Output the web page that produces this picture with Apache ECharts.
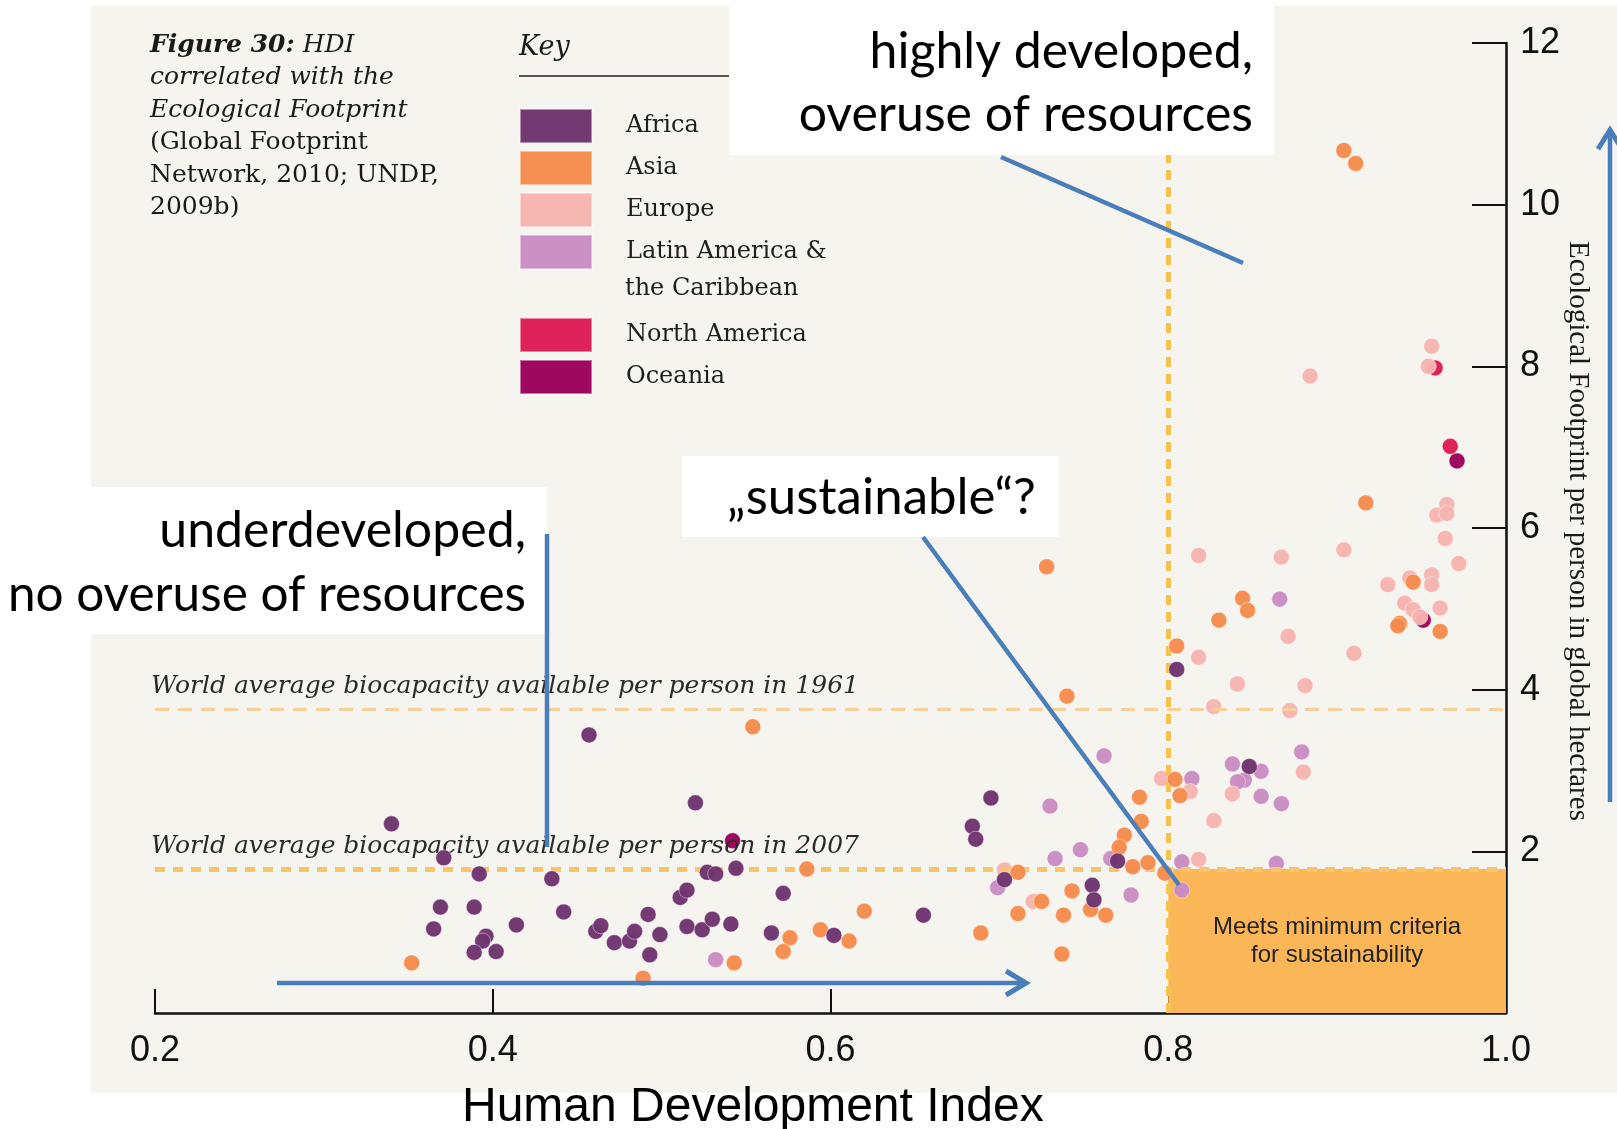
<!DOCTYPE html>
<html><head><meta charset="utf-8">
<script src="https://cdn.jsdelivr.net/npm/echarts@6/dist/echarts.min.js"></script>
<style>html,body{margin:0;padding:0;background:#fff}#c{width:1617px;height:1129px}</style>
</head><body><div id="c"></div>
<script>
// ---- data: [HDI, Ecological Footprint (gha per person)] ----
const africa = [[0.340,2.34],[0.371,1.92],[0.392,1.72],[0.435,1.66],[0.369,1.31],[0.389,1.31],[0.442,1.25],[0.365,1.04],[0.414,1.09],[0.396,0.95],[0.394,0.89],[0.389,0.75],[0.402,0.76],[0.461,1.01],[0.464,1.08],[0.472,0.87],[0.481,0.89],[0.484,1.01],[0.492,1.22],[0.493,0.72],[0.499,0.97],[0.515,1.07],[0.524,1.03],[0.530,1.16],[0.541,1.10],[0.511,1.43],[0.515,1.52],[0.520,2.60],[0.527,1.74],[0.532,1.72],[0.544,1.79],[0.572,1.48],[0.565,0.99],[0.602,0.96],[0.457,3.44],[0.695,2.66],[0.684,2.31],[0.686,2.15],[0.655,1.21],[0.703,1.65],[0.770,1.88],[0.755,1.58],[0.756,1.40],[0.805,4.25],[0.848,3.05]];
const asia = [[0.352,0.62],[0.489,0.43],[0.543,0.62],[0.554,3.54],[0.586,1.78],[0.576,0.93],[0.572,0.76],[0.594,1.03],[0.611,0.89],[0.620,1.26],[0.689,0.99],[0.711,1.74],[0.711,1.23],[0.728,5.52],[0.740,3.92],[0.725,1.38],[0.743,1.51],[0.738,1.21],[0.754,1.28],[0.763,1.21],[0.737,0.73],[0.783,2.67],[0.784,2.37],[0.774,2.20],[0.771,2.05],[0.779,1.81],[0.788,1.86],[0.798,1.73],[0.804,2.89],[0.807,2.69],[0.805,4.54],[0.830,4.86],[0.844,5.13],[0.847,4.98],[0.904,10.67],[0.911,10.51],[0.917,6.31],[0.945,5.33],[0.937,4.82],[0.936,4.79],[0.961,4.72]];
const europe = [[0.720,1.38],[0.703,1.77],[0.796,2.90],[0.813,2.74],[0.818,1.90],[0.827,2.38],[0.838,2.71],[0.880,2.98],[0.818,5.66],[0.818,4.40],[0.827,3.79],[0.841,4.07],[0.867,5.64],[0.871,4.66],[0.881,4.05],[0.872,3.74],[0.904,5.73],[0.910,4.45],[0.930,5.30],[0.943,5.38],[0.956,5.42],[0.956,5.30],[0.972,5.56],[0.964,5.87],[0.965,6.29],[0.959,6.16],[0.965,6.18],[0.940,5.07],[0.945,4.99],[0.961,5.01],[0.949,4.90],[0.884,7.88],[0.956,8.25],[0.954,8.00]];
const latinAmerica = [[0.532,0.66],[0.699,1.55],[0.762,3.18],[0.730,2.56],[0.748,2.02],[0.733,1.91],[0.766,1.91],[0.778,1.46],[0.808,1.87],[0.808,1.52],[0.814,2.90],[0.864,1.85],[0.838,3.08],[0.855,2.99],[0.845,2.88],[0.841,2.86],[0.855,2.68],[0.867,2.59],[0.879,3.23],[0.866,5.12]];
const northAmerica = [[0.958,7.98],[0.967,7.01]];
const oceania = [[0.542,2.13],[0.971,6.83],[0.951,4.86]];

const regionNames = ['Africa','Asia','Europe','Latin America & the Caribbean','North America','Oceania'];
const regionColors = ['#6f3470','#f58b4c','#f6b4ae','#c98cc2','#dc1c52','#9b005a'];

const xTicks = [0.2,0.4,0.6,0.8,1.0];
const yTicks = [0,2,4,6,8,10,12];
const biocapacity1961 = 3.76;
const biocapacity2007 = 1.78;
const hdiThreshold = 0.8;

const serif = 'DejaVu Serif';
const sans = 'Liberation Sans';
const anno = 'Lato';
const blue = '#4a7ebb';

function scatter(idx, data, z) {
  return { name: regionNames[idx], type: 'scatter', data: data, symbolSize: 16, z: z, silent: true,
    itemStyle: { color: regionColors[idx], opacity: 0.97, borderColor: 'rgba(255,255,255,0.45)', borderWidth: 1 } };
}

const legendTops = [108,150,192,234,317,359];
const legends = regionNames.map((n, i) => ({
  data: [n], orient: 'vertical', left: 519, top: legendTops[i], padding: 0,
  icon: 'rect', itemWidth: 72, itemHeight: 34, selectedMode: false,
  formatter: n === regionNames[3] ? 'Latin America &' : '{name}',
  textStyle: { fontFamily: serif, fontSize: 24, color: '#1f1f1f', padding: [0,0,0,29] }
}));

const chart = echarts.init(document.getElementById('c'));
chart.setOption({
  animation: false,
  backgroundColor: '#ffffff',
  grid: { left: 155, right: 111, top: 43, bottom: 116, containLabel: false },
  legend: legends,
  xAxis: { type: 'value', min: xTicks[0], max: xTicks[xTicks.length-1], interval: 0.2,
    axisLine: { show: true, onZero: false, lineStyle: { color: '#111', width: 2.5 } },
    axisTick: { show: true, inside: true, length: 24, lineStyle: { color: '#111', width: 2 } },
    axisLabel: { formatter: v => v.toFixed(1), fontFamily: sans, fontSize: 36, color: '#111', margin: 20 },
    splitLine: { show: false } },
  yAxis: { type: 'value', position: 'right', min: yTicks[0], max: yTicks[yTicks.length-1], interval: 2,
    axisLine: { show: true, onZero: false, lineStyle: { color: '#111', width: 2.5 } },
    axisTick: { show: true, inside: true, length: 34, lineStyle: { color: '#111', width: 2 } },
    axisLabel: { formatter: v => v === 0 ? '' : String(v), fontFamily: sans, fontSize: 36, color: '#111', margin: 14 },
    splitLine: { show: false } },
  series: [
    { name: 'ref', type: 'line', data: [], z: 1, silent: true,
      markArea: { silent: true, itemStyle: { color: '#fbb658' },
        label: { show: true, position: 'inside', formatter: 'Meets minimum criteria\nfor sustainability',
          fontFamily: sans, fontSize: 24, color: '#222', lineHeight: 28 },
        data: [[{ coord: [hdiThreshold, 0] }, { coord: [1.0, biocapacity2007] }]] },
      markLine: { silent: true, symbol: ['none','none'],
        data: [
          [{ coord: [0.2, biocapacity1961], lineStyle: { color: '#f5d09a', width: 3, type: [14,9] },
             label: { show: true, position: 'insideStartTop', distance: [-4, 10], formatter: 'World average biocapacity available per person in 1961',
               fontFamily: serif, fontStyle: 'italic', fontSize: 25, color: '#2a2a2a' } },
           { coord: [1.0, biocapacity1961] }],
          [{ coord: [0.2, biocapacity2007], lineStyle: { color: '#f8c46e', width: 5, type: [10,8] },
             label: { show: true, position: 'insideStartTop', distance: [-4, 10], formatter: 'World average biocapacity available per person in 2007',
               fontFamily: serif, fontStyle: 'italic', fontSize: 25, color: '#2a2a2a' } },
           { coord: [1.0, biocapacity2007] }],
          [{ coord: [hdiThreshold, 0], lineStyle: { color: '#f5c250', width: 5, type: [10,7] }, label: { show: false } },
           { coord: [hdiThreshold, 12] }]
        ] } },
    scatter(4, northAmerica, 2),
    scatter(5, oceania, 2),
    scatter(3, latinAmerica, 3),
    scatter(2, europe, 4),
    scatter(1, asia, 5),
    scatter(0, africa, 6)
  ],
  graphic: [
    { type: 'rect', shape: { x: 91, y: 6, width: 1526, height: 1087 }, style: { fill: '#f6f4ef' }, z: -10, silent: true },
    { type: 'text', x: 150, y: 29, z: 5, style: {
        text: '{bi|Figure 30:}{i| HDI}\n{i|correlated with the}\n{i|Ecological Footprint}\n{r|(Global Footprint}\n{r|Network, 2010; UNDP,}\n{r|2009b)}',
        rich: {
          bi: { fontFamily: serif, fontSize: 25, fontStyle: 'italic', fontWeight: 'bold', lineHeight: 32.5, fill: '#1a1a1a' },
          i: { fontFamily: serif, fontSize: 25, fontStyle: 'italic', lineHeight: 32.5, fill: '#1a1a1a' },
          r: { fontFamily: serif, fontSize: 25, lineHeight: 32.5, fill: '#1a1a1a' } } } },
    { type: 'text', x: 519, y: 48, z: 5, style: { text: 'Key', fontFamily: serif, fontStyle: 'italic', fontSize: 27, fill: '#1a1a1a', verticalAlign: 'middle' } },
    { type: 'line', shape: { x1: 519, y1: 76, x2: 729, y2: 76 }, style: { stroke: '#222', lineWidth: 1.5 }, z: 5 },
    { type: 'text', x: 625, y: 289, z: 5, style: { text: 'the Caribbean', fontFamily: serif, fontSize: 24, fill: '#1f1f1f', verticalAlign: 'middle' } },
    // annotation boxes
    { type: 'rect', shape: { x: 729, y: 6, width: 545, height: 149 }, style: { fill: '#ffffff' }, z: 100 },
    { type: 'rect', shape: { x: 0, y: 487, width: 547, height: 147 }, style: { fill: '#ffffff' }, z: 100 },
    { type: 'rect', shape: { x: 682, y: 456, width: 377, height: 81 }, style: { fill: '#ffffff' }, z: 100 },
    { type: 'text', x: 1253, y: 52, z: 101, style: { text: 'highly developed,', fontFamily: anno, fontSize: 50, fill: '#000', textAlign: 'right', verticalAlign: 'middle' } },
    { type: 'text', x: 1253, y: 115, z: 101, style: { text: 'overuse of resources', fontFamily: anno, fontSize: 50, fill: '#000', textAlign: 'right', verticalAlign: 'middle' } },
    { type: 'text', x: 526, y: 531, z: 101, style: { text: 'underdeveloped,', fontFamily: anno, fontSize: 50, fill: '#000', textAlign: 'right', verticalAlign: 'middle' } },
    { type: 'text', x: 526, y: 595, z: 101, style: { text: 'no overuse of resources', fontFamily: anno, fontSize: 49.5, fill: '#000', textAlign: 'right', verticalAlign: 'middle' } },
    { type: 'text', x: 727, y: 498, z: 101, style: { text: '\u201Esustainable\u201C?', fontFamily: anno, fontSize: 51, fill: '#000', textAlign: 'left', verticalAlign: 'middle' } },
    // axis titles
    { type: 'text', x: 462, y: 1108, z: 101, style: { text: 'Human Development Index', fontFamily: sans, fontSize: 48, fill: '#000', textAlign: 'left', verticalAlign: 'middle' } },
    { type: 'text', x: 1578, y: 531, rotation: -Math.PI/2, z: 5, style: { text: 'Ecological Footprint per person in global hectares', fontFamily: 'Liberation Serif', fontSize: 29, fill: '#1a1a1a', textAlign: 'center', verticalAlign: 'middle' } },
    // blue pointer lines and arrows
    { type: 'line', z: 102, shape: { x1: 1001, y1: 157, x2: 1243, y2: 263 }, style: { stroke: blue, lineWidth: 4.5 } },
    { type: 'line', z: 102, shape: { x1: 547, y1: 534, x2: 547, y2: 847 }, style: { stroke: blue, lineWidth: 4.5 } },
    { type: 'line', z: 102, shape: { x1: 923, y1: 537, x2: 1179, y2: 885 }, style: { stroke: blue, lineWidth: 4.5 } },
    { type: 'line', z: 102, shape: { x1: 277, y1: 983, x2: 1022, y2: 983 }, style: { stroke: blue, lineWidth: 4.5 } },
    { type: 'polyline', z: 102, shape: { points: [[1006,971],[1026,983],[1006,995]] }, style: { stroke: blue, lineWidth: 5, fill: null } },
    { type: 'line', z: 102, shape: { x1: 1610, y1: 133, x2: 1610, y2: 802 }, style: { stroke: blue, lineWidth: 4.5 } },
    { type: 'polyline', z: 102, shape: { points: [[1598,149],[1610,130],[1622,149]] }, style: { stroke: blue, lineWidth: 5, fill: null } }
  ]
});
</script></body></html>
